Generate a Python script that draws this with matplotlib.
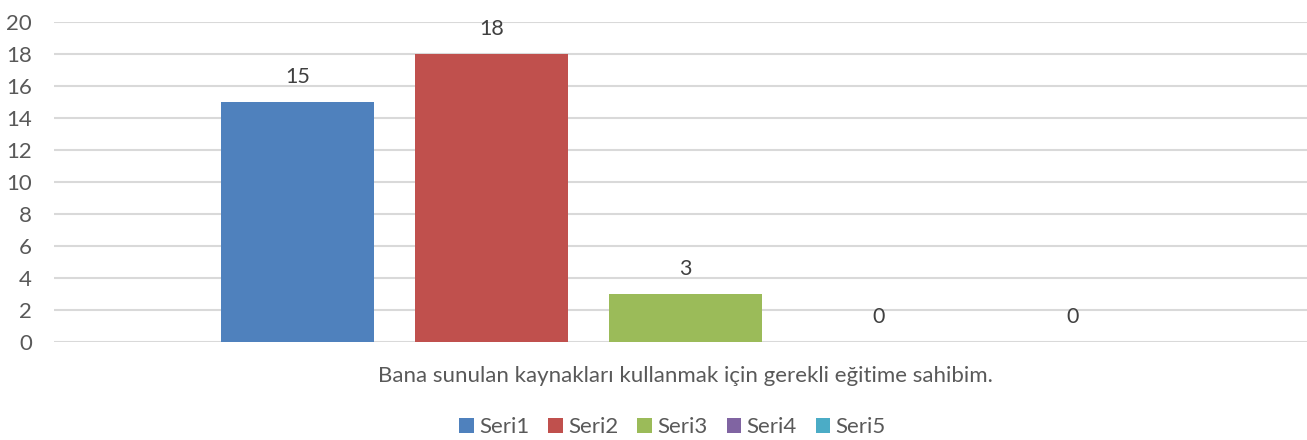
import matplotlib
matplotlib.use("Agg")
import matplotlib.pyplot as plt
from matplotlib.patches import Patch

plt.rcParams['font.family'] = ['Lato', 'DejaVu Sans']

series = ["Seri1", "Seri2", "Seri3", "Seri4", "Seri5"]
values = [15, 18, 3, 0, 0]
colors = ["#4F81BD", "#C0504D", "#9BBB59", "#8064A2", "#4BACC6"]
category = "Bana sunulan kaynakları kullanmak için gerekli eğitime sahibim."
yticks = [0, 2, 4, 6, 8, 10, 12, 14, 16, 18, 20]

W, H = 1307, 440
fig = plt.figure(figsize=(W/100, H/100), dpi=100)
left, right = 54.3, 1307
top, bottom = 21.7, 342.3
ax = fig.add_axes([left/W, 1 - bottom/H, (right-left)/W, (bottom-top)/H])

pitch = 193.75
x0 = 297.5
pos = list(range(len(series)))
ax.bar(pos, values, width=153/pitch, color=colors, zorder=3)
for p, v in zip(pos, values):
    ax.annotate(str(v), (p, v), xytext=(0, 18), textcoords='offset points',
                ha='center', va='center', fontsize=15.5, color='#404040')

ax.set_xlim((left - x0)/pitch, (right - x0)/pitch)
ax.set_ylim(0, 20)
ax.set_yticks(yticks)
ax.set_yticklabels([str(t) for t in yticks], fontsize=16, color='#595959')
ax.tick_params(axis='y', length=0, pad=16)
ax.tick_params(axis='x', length=0, labelbottom=False)
ax.grid(axis='y', color='#D9D9D9', linewidth=1.5, zorder=0)
for s in ax.spines.values():
    s.set_visible(False)

fig.text(685/W, 1 - 376/H, category, ha='center', va='center', fontsize=16, color='#595959')

handles = [Patch(facecolor=c, label=s) for c, s in zip(colors, series)]
fig.legend(handles=handles, loc='center', bbox_to_anchor=(672.5/W, 1 - 427/H), ncol=5,
           frameon=False, fontsize=16, handlelength=0.65, handleheight=0.65,
           handletextpad=0.25, columnspacing=0.85, labelcolor='#595959')

fig.savefig("out.png", dpi=100)
